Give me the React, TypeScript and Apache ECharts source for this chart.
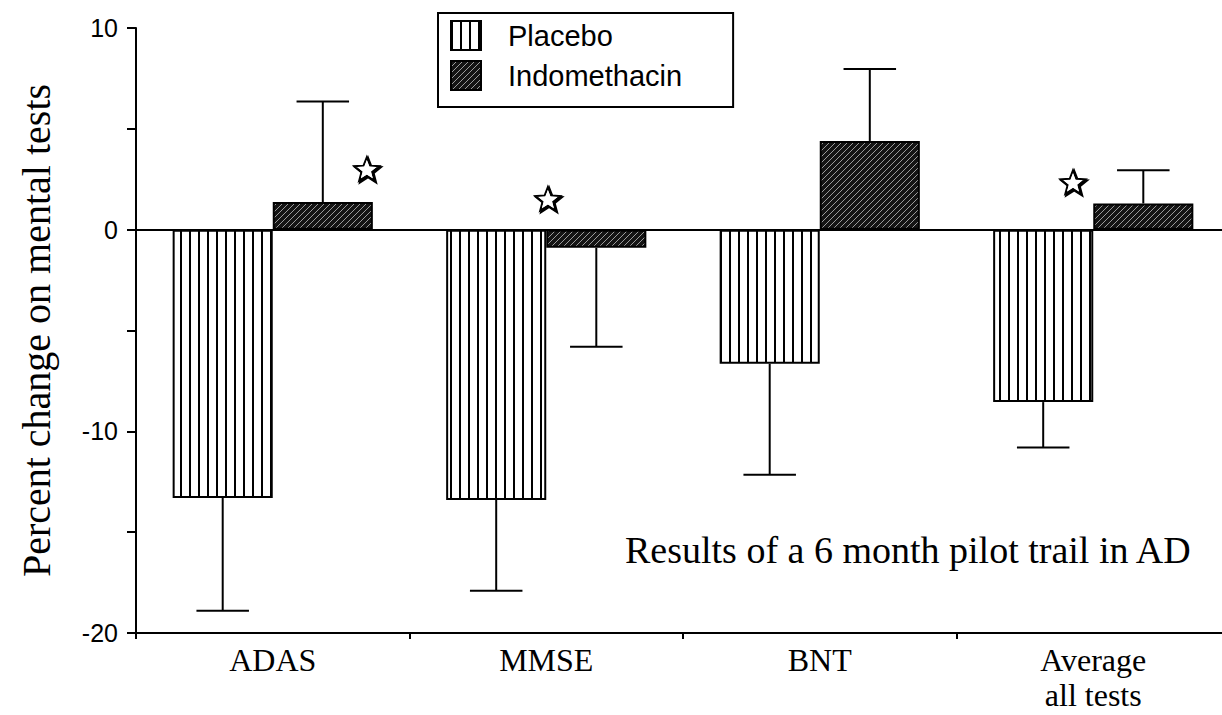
import React, { useEffect, useRef } from 'react';
import * as echarts from 'echarts';

const categories = ['ADAS', 'MMSE', 'BNT', 'Average\nall tests'];
const placeboValues = [-13.3, -13.4, -6.65, -8.55];
const placeboErrorEnds = [-18.9, -17.9, -12.15, -10.8];
const indomethacinValues = [1.37, -0.9, 4.4, 1.3];
const indomethacinErrorEnds = [6.35, -5.8, 7.97, 2.95];
const starCategoryIndex = [0, 1, 3];
const starValues = [2.95, 1.47, 2.3];
const yLabelledTicks = [-20, -10, 0, 10];
const annotation = 'Results of a 6 month pilot trail in AD';
const yTitle = 'Percent change on mental tests';

// horizontal shift of each star, as a fraction of the category band (style only)
const STAR_SHIFT: Record<number, number> = { 0: 0.344, 1: 0.006, 3: -0.074 };

function makePlaceboPattern() {
  const c = document.createElement('canvas');
  c.width = 9;
  c.height = 9;
  const ctx = c.getContext('2d')!;
  ctx.fillStyle = '#ffffff';
  ctx.fillRect(0, 0, 9, 9);
  ctx.fillStyle = '#000000';
  ctx.fillRect(0, 0, 2, 9);
  return c;
}

function makeIndoPattern() {
  const s = 6;
  const c = document.createElement('canvas');
  c.width = s;
  c.height = s;
  const ctx = c.getContext('2d')!;
  ctx.fillStyle = '#141414';
  ctx.fillRect(0, 0, s, s);
  ctx.strokeStyle = '#9a9a9a';
  ctx.lineWidth = 1;
  ctx.beginPath();
  ctx.moveTo(0, s);
  ctx.lineTo(s, 0);
  ctx.moveTo(-1, 1);
  ctx.lineTo(1, -1);
  ctx.moveTo(s - 1, s + 1);
  ctx.lineTo(s + 1, s - 1);
  ctx.stroke();
  return c;
}

function starPoints(cx: number, cy: number, R: number, r: number) {
  const pts: number[][] = [];
  for (let i = 0; i < 10; i++) {
    const ang = -Math.PI / 2 + (i * Math.PI) / 5;
    const rad = i % 2 === 0 ? R : r;
    pts.push([cx + rad * Math.cos(ang), cy + rad * Math.sin(ang)]);
  }
  return pts;
}

export default function App() {
  const ref = useRef<HTMLDivElement>(null);

  useEffect(() => {
    document.body.style.margin = '0';
    const chart = echarts.init(ref.current!, undefined, { renderer: 'svg' });
    const placeboFill = { image: makePlaceboPattern(), repeat: 'repeat' };
    const indoFill = { image: makeIndoPattern(), repeat: 'repeat' };

    const errorData: number[][] = [];
    categories.forEach((_, i) => {
      errorData.push([i, placeboValues[i], placeboErrorEnds[i], -1]);
      errorData.push([i, indomethacinValues[i], indomethacinErrorEnds[i], 1]);
    });
    const starData = starCategoryIndex.map((c, i) => [c, starValues[i]]);

    const serif = 'Liberation Serif';
    const sans = 'Liberation Sans';

    chart.setOption({
      animation: false,
      backgroundColor: '#ffffff',
      grid: { left: 136, right: 0, top: 28, bottom: 82, containLabel: false },
      legend: {
        data: ['Placebo', 'Indomethacin'],
        orient: 'vertical',
        left: 438,
        top: 13,
        icon: 'rect',
        itemWidth: 30,
        itemHeight: 29,
        itemGap: 9,
        padding: [7, 51, 16, 12],
        borderColor: '#000',
        borderWidth: 2,
        borderRadius: 0,
        textStyle: { fontFamily: sans, fontSize: 29, color: '#000', padding: [0, 0, 0, 22] },
      },
      graphic: [
        {
          type: 'text',
          left: 625,
          top: 531,
          style: { text: annotation, font: `38px "${serif}"`, fill: '#000' },
        },
      ],
      xAxis: {
        type: 'category',
        data: categories,
        axisLine: { onZero: false, lineStyle: { color: '#000', width: 2 } },
        axisTick: { show: true, length: 6, lineStyle: { color: '#000', width: 2 } },
        axisLabel: {
          color: '#000',
          fontFamily: serif,
          fontSize: 32,
          lineHeight: 35,
          margin: 9,
          interval: 0,
        },
        splitLine: { show: false },
      },
      yAxis: {
        type: 'value',
        min: -20,
        max: 10,
        interval: 5,
        name: yTitle,
        nameLocation: 'middle',
        nameGap: 80,
        nameRotate: 90,
        nameTextStyle: { fontFamily: serif, fontSize: 40, color: '#000' },
        axisLine: { show: true, lineStyle: { color: '#000', width: 2 } },
        axisTick: { show: true, length: 9, lineStyle: { color: '#000', width: 2 } },
        axisLabel: {
          color: '#000',
          fontFamily: sans,
          fontSize: 25,
          margin: 18,
          formatter: (v: number) => (yLabelledTicks.includes(v) ? String(v) : ''),
        },
        splitLine: { show: false },
      },
      series: [
        {
          name: 'Placebo',
          type: 'bar',
          data: placeboValues,
          barWidth: '36.6%',
          barGap: '0%',
          itemStyle: { color: placeboFill, borderColor: '#000', borderWidth: 2 },
          markLine: {
            silent: true,
            symbol: 'none',
            label: { show: false },
            lineStyle: { color: '#000', width: 2, type: 'solid' },
            data: [{ yAxis: 0 }],
            z: 5,
          },
        },
        {
          name: 'Indomethacin',
          type: 'bar',
          data: indomethacinValues,
          barWidth: '36.6%',
          barGap: '0%',
          itemStyle: { color: indoFill, borderColor: '#000', borderWidth: 2 },
        },
        {
          type: 'custom',
          name: 'errors',
          silent: true,
          z: 4,
          data: errorData,
          renderItem: (params: any, api: any) => {
            const cat = api.value(0);
            const bv = api.value(1);
            const ev = api.value(2);
            const side = api.value(3);
            const band = api.size([1, 0])[0];
            const p0 = api.coord([cat, bv]);
            const p1 = api.coord([cat, ev]);
            const x = p0[0] + side * band * 0.183;
            const cap = band * 0.096;
            const st = { stroke: '#000', lineWidth: 2 };
            return {
              type: 'group',
              children: [
                { type: 'line', shape: { x1: x, y1: p0[1], x2: x, y2: p1[1] }, style: st },
                { type: 'line', shape: { x1: x - cap, y1: p1[1], x2: x + cap, y2: p1[1] }, style: st },
              ],
            };
          },
        },
        {
          type: 'custom',
          name: 'stars',
          silent: true,
          z: 6,
          data: starData,
          renderItem: (params: any, api: any) => {
            const cat = api.value(0);
            const v = api.value(1);
            const band = api.size([1, 0])[0];
            const p = api.coord([cat, v]);
            const cx = p[0] + (STAR_SHIFT[cat] || 0) * band;
            return {
              type: 'group',
              children: [
                {
                  type: 'polygon',
                  shape: { points: starPoints(cx + 1.2, p[1] + 1.2, 13, 5.6) },
                  style: { fill: '#000', stroke: '#000', lineWidth: 2.5 },
                },
                {
                  type: 'polygon',
                  shape: { points: starPoints(cx, p[1], 13, 5.6) },
                  style: { fill: '#fff', stroke: '#000', lineWidth: 2 },
                },
                {
                  type: 'polygon',
                  shape: { points: starPoints(cx, p[1], 10, 4.2) },
                  style: { fill: '#fff', stroke: '#fff', lineWidth: 0 },
                },
              ],
            };
          },
        },
      ],
    });
    return () => chart.dispose();
  }, []);

  return (
    <div style={{ position: 'absolute', left: 0, top: 0, width: 1222, height: 715, overflow: 'hidden' }}>
      <div ref={ref} style={{ width: 1230, height: 715 }} />
    </div>
  );
}
